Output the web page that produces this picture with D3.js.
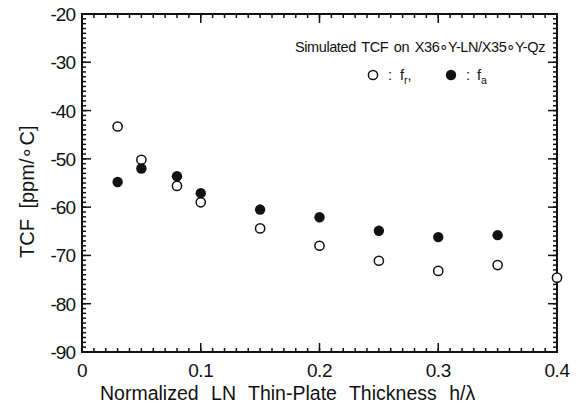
<!DOCTYPE html>
<html>
<head>
<meta charset="utf-8">
<script src="https://cdn.jsdelivr.net/npm/d3@7"></script>
<style>
  body { margin: 0; background: #fff; }
  text { font-family: "Liberation Sans", Arial, sans-serif; fill: #111; }
</style>
</head>
<body>
<svg id="chart" width="587" height="410"></svg>
<script>
// thickness h/lambda
const thickness = [0.03, 0.05, 0.08, 0.1, 0.15, 0.2, 0.25, 0.3, 0.35, 0.4];
// TCF of resonance (open) and anti-resonance (filled)
const tcfR = [-43.3, -50.2, -55.6, -59.0, -64.4, -68.0, -71.1, -73.2, -72.0, -74.6];
const tcfA = [-54.8, -52.0, -53.6, -57.1, -60.5, -62.1, -64.9, -66.2, -65.8];

const xTicks = [0, 0.1, 0.2, 0.3, 0.4];
const yTicks = [-20, -30, -40, -50, -60, -70, -80, -90];

const svg = d3.select("#chart");
const margin = { top: 14, right: 30, bottom: 58, left: 82 };
const width = +svg.attr("width");
const height = +svg.attr("height");

const x = d3.scaleLinear()
    .domain([0, 0.4])
    .range([margin.left, width - margin.right]);

const y = d3.scaleLinear()
    .domain([-90, -20])
    .range([height - margin.bottom, margin.top]);

const ink = "#111";

const xMinor = d3.range(0, 41).map(d => d / 100);
const yMinor = d3.range(-90, -19);

// minor ticks, all four sides, pointing inward
const minor = svg.append("g").attr("stroke", ink).attr("stroke-width", 1.5);
minor.selectAll(".mb").data(xMinor).join("line")
    .attr("x1", d => x(d)).attr("x2", d => x(d))
    .attr("y1", y(-90)).attr("y2", y(-90) - 4);
minor.selectAll(".mt").data(xMinor).join("line")
    .attr("x1", d => x(d)).attr("x2", d => x(d))
    .attr("y1", y(-20)).attr("y2", y(-20) + 4);
minor.selectAll(".ml").data(yMinor).join("line")
    .attr("x1", x(0)).attr("x2", x(0) + 4)
    .attr("y1", d => y(d)).attr("y2", d => y(d));
minor.selectAll(".mr").data(yMinor).join("line")
    .attr("x1", x(0.4)).attr("x2", x(0.4) - 4)
    .attr("y1", d => y(d)).attr("y2", d => y(d));

// major ticks
const major = svg.append("g").attr("stroke", ink).attr("stroke-width", 1.5);
major.selectAll(".Mb").data(xTicks).join("line")
    .attr("x1", d => x(d)).attr("x2", d => x(d))
    .attr("y1", y(-90)).attr("y2", y(-90) - 9);
major.selectAll(".Mt").data(xTicks).join("line")
    .attr("x1", d => x(d)).attr("x2", d => x(d))
    .attr("y1", y(-20)).attr("y2", y(-20) + 9);
major.selectAll(".Ml").data(yTicks).join("line")
    .attr("x1", x(0)).attr("x2", x(0) + 9)
    .attr("y1", d => y(d)).attr("y2", d => y(d));
major.selectAll(".Mr").data(yTicks).join("line")
    .attr("x1", x(0.4)).attr("x2", x(0.4) - 9)
    .attr("y1", d => y(d)).attr("y2", d => y(d));

// frame
svg.append("rect")
    .attr("x", x(0)).attr("y", y(-20))
    .attr("width", x(0.4) - x(0))
    .attr("height", y(-90) - y(-20))
    .attr("fill", "none")
    .attr("stroke", ink)
    .attr("stroke-width", 2);

// tick labels
svg.append("g").selectAll("text").data(xTicks).join("text")
    .attr("x", d => x(d))
    .attr("y", y(-90) + 25)
    .attr("text-anchor", "middle")
    .style("font-size", "19px")
    .style("letter-spacing", "-0.5px")
    .text(d => d3.format("")(d));

svg.append("g").selectAll("text").data(yTicks).join("text")
    .attr("x", x(0) - 7)
    .attr("y", d => y(d) + 7)
    .attr("text-anchor", "end")
    .style("font-size", "19px")
    .style("letter-spacing", "-1px")
    .text(d => d);

// axis titles
svg.append("text")
    .attr("x", 100)
    .attr("y", 400)
    .style("font-size", "19.5px")
    .style("word-spacing", "7px")
    .text("Normalized LN Thin-Plate Thickness h/\u03bb");

svg.append("text")
    .attr("transform", "rotate(-90)")
    .attr("x", -258)
    .attr("y", 34)
    .style("font-size", "20px")
    .style("word-spacing", "5px")
    .text("TCF [ppm/\u2218C]");

// inner title and legend
svg.append("text")
    .attr("x", 545)
    .attr("y", 52)
    .attr("text-anchor", "end")
    .style("font-size", "14.5px")
    .style("letter-spacing", "-0.4px")
    .style("word-spacing", "2px")
    .text("Simulated TCF on X36\u2218Y-LN/X35\u2218Y-Qz");

const leg = svg.append("g").style("font-size", "14.5px");
leg.append("circle").attr("cx", 373).attr("cy", 75).attr("r", 4.6)
    .attr("fill", "#fff").attr("stroke", ink).attr("stroke-width", 1.5);
leg.append("text").attr("x", 388).attr("y", 80).text(":");
const fr = leg.append("text").attr("x", 400).attr("y", 80);
fr.append("tspan").text("f");
fr.append("tspan").attr("dy", 4).style("font-size", "10.5px").text("r");
fr.append("tspan").attr("dy", -4).text(",");
leg.append("circle").attr("cx", 451).attr("cy", 75).attr("r", 5.2)
    .attr("fill", ink);
leg.append("text").attr("x", 466).attr("y", 80).text(":");
const fa = leg.append("text").attr("x", 477).attr("y", 80);
fa.append("tspan").text("f");
fa.append("tspan").attr("dy", 4).style("font-size", "10.5px").text("a");

// data points
svg.append("g").selectAll("circle").data(tcfR).join("circle")
    .attr("cx", (d, i) => x(thickness[i]))
    .attr("cy", d => y(d))
    .attr("r", 4.6)
    .attr("fill", "#fff")
    .attr("stroke", ink)
    .attr("stroke-width", 1.5);

svg.append("g").selectAll("circle").data(tcfA).join("circle")
    .attr("cx", (d, i) => x(thickness[i]))
    .attr("cy", d => y(d))
    .attr("r", 5.2)
    .attr("fill", ink);
</script>
</body>
</html>
